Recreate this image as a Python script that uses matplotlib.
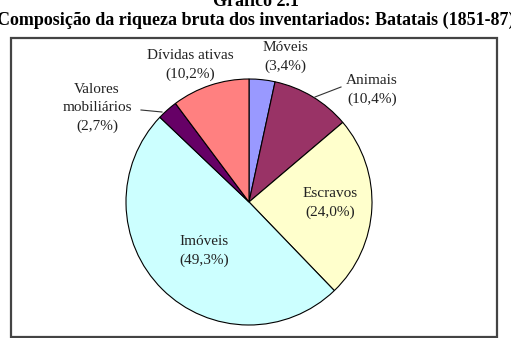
import matplotlib.pyplot as plt
from matplotlib.patches import Rectangle

W, H = 511, 338

categorias = ["Móveis", "Animais", "Escravos", "Imóveis", "Valores\nmobiliários", "Dívidas ativas"]
valores = [3.4, 10.4, 24.0, 49.3, 2.7, 10.2]
cores = ["#9999FF", "#993366", "#FFFFCC", "#CCFFFF", "#660066", "#FF8080"]

# label positions in pixels (x, y from top)
pos_rotulos = [(285, 57), (372, 90), (330, 203), (204, 251), (97, 108), (190, 65)]

plt.rcParams['font.family'] = ['Liberation Serif', 'DejaVu Serif']

fig = plt.figure(figsize=(W / 100, H / 100), dpi=100)
ax = fig.add_axes([0, 0, 1, 1])

ax.pie(valores, colors=cores, startangle=90, counterclock=False,
       center=(249, H - 202), radius=123, frame=True,
       wedgeprops=dict(edgecolor='black', linewidth=0.8))
ax.set_xlim(0, W)
ax.set_ylim(0, H)
ax.set_aspect('auto')
ax.axis('off')

for nome, v, (x, y) in zip(categorias, valores, pos_rotulos):
    txt = nome + "\n(" + ("%.1f" % v).replace(".", ",") + "%)"
    ax.text(x, H - y, txt, ha='center', va='center', fontsize=11,
            linespacing=1.5, color='#222222')

# leader lines
ax.plot([315, 341], [H - 97, H - 87], color='#333333', lw=0.8)
ax.plot([141, 162], [H - 110, H - 112], color='#333333', lw=0.8)

ax.add_patch(Rectangle((11, H - 337), 486, 299, fill=False,
                       edgecolor='#444444', lw=1.6))

fig.text(0.5, 1 - 2 / H, "Gráfico 2.1", ha='center', va='center',
         fontsize=13, fontweight='bold')
fig.text(0.5, 1 - 20 / H, "Composição da riqueza bruta dos inventariados: Batatais (1851-87)",
         ha='center', va='center', fontsize=13, fontweight='bold')

fig.savefig("out.png", dpi=100)
